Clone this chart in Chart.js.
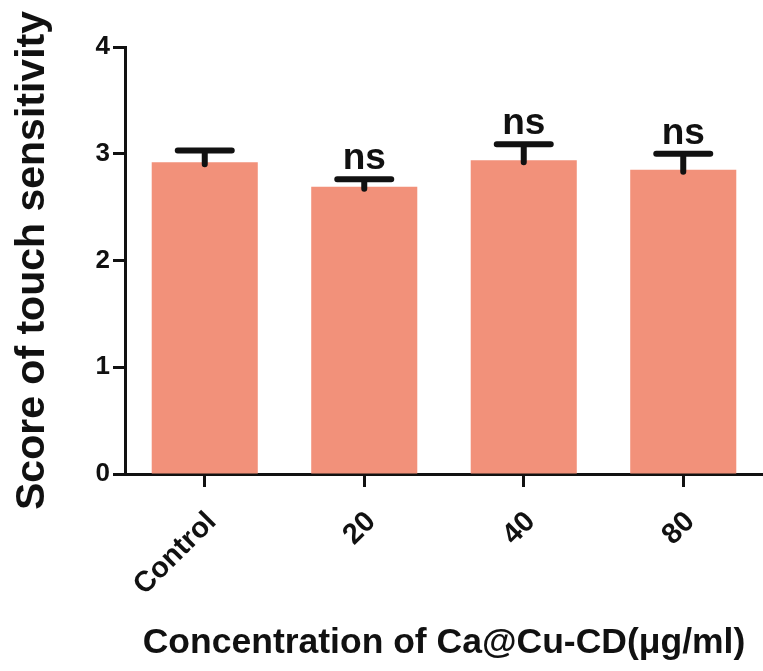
<!DOCTYPE html>
<html>
<head>
<meta charset="utf-8">
<script src="https://cdn.jsdelivr.net/npm/chart.js@4.4.1/dist/chart.umd.min.js"></script>
<style>
  html, body { margin: 0; padding: 0; background: #fff; }
  #wrap { width: 763px; height: 671px; }
</style>
</head>
<body>
<div id="wrap"><canvas id="myChart"></canvas></div>
<script>
// data
const groups = ['Control', '20', '40', '80'];
const scores = [2.92, 2.69, 2.94, 2.85];
const errors = [0.11, 0.07, 0.15, 0.15];
const marks = ['', 'ns', 'ns', 'ns'];
const yTicks = [0, 1, 2, 3, 4];

const barColor = '#F2917A';
const FONT = 'Arial, "Liberation Sans", sans-serif';

// upper error bars + "ns" labels
const errorBars = {
    id: 'errorBars',
    afterDatasetsDraw(chart) {
        const ctx = chart.ctx;
        const meta = chart.getDatasetMeta(0);
        const y = chart.scales.y;
        ctx.save();
        ctx.strokeStyle = '#111';
        ctx.lineWidth = 6;
        ctx.lineCap = 'round';
        meta.data.forEach((bar, i) => {
            const top = y.getPixelForValue(scores[i] + errors[i]);
            const base = y.getPixelForValue(scores[i]);
            ctx.beginPath();
            ctx.moveTo(bar.x, base + 2);
            ctx.lineTo(bar.x, top);
            ctx.moveTo(bar.x - 27, top);
            ctx.lineTo(bar.x + 27, top);
            ctx.stroke();
            if (marks[i]) {
                ctx.fillStyle = '#111';
                ctx.font = 'bold 37px ' + FONT;
                ctx.textAlign = 'center';
                ctx.textBaseline = 'alphabetic';
                ctx.fillText(marks[i], bar.x, top - 10);
            }
        });
        ctx.restore();
    }
};

new Chart(document.getElementById('myChart'), {
    type: 'bar',
    data: {
        labels: groups,
        datasets: [{
            data: scores,
            backgroundColor: barColor,
            borderWidth: 0,
            barPercentage: 1,
            categoryPercentage: 0.665
        }]
    },
    options: {
        animation: false,
        responsive: true,
        maintainAspectRatio: false,
        layout: { padding: { top: 47, right: 0, left: 0, bottom: 0 } },
        plugins: { legend: { display: false }, tooltip: { enabled: false } },
        scales: {
            x: {
                offset: true,
                afterFit: (s) => { s.height = 197; },
                grid: { drawOnChartArea: false, drawTicks: true, tickLength: 13, tickWidth: 3, color: '#111', offset: false },
                border: { display: true, width: 3, color: '#111' },
                ticks: { color: '#111', font: { family: FONT, size: 29, weight: 'bold' }, minRotation: 45, maxRotation: 45, padding: 18, labelOffset: 7 },
                title: {
                    display: true,
                    text: 'Concentration of Ca@Cu-CD(\u03bcg/ml)',
                    color: '#111',
                    font: { family: FONT, size: 35.5, weight: 'bold' },
                    padding: { top: 0, bottom: 6 }
                }
            },
            y: {
                min: 0,
                max: 4,
                afterFit: (s) => { s.width = 125; },
                afterBuildTicks: (s) => { s.ticks = yTicks.map(v => ({ value: v })); },
                grid: { drawOnChartArea: false, drawTicks: true, tickLength: 12, tickWidth: 3, color: '#111' },
                border: { display: true, width: 3, color: '#111' },
                ticks: { color: '#111', font: { family: FONT, size: 26, weight: 'bold' }, padding: 3 },
                title: {
                    display: true,
                    text: 'Score of touch sensitivity',
                    color: '#111',
                    font: { family: FONT, size: 41, weight: 'bold' },
                    padding: { top: 8, bottom: 0 }
                }
            }
        }
    },
    plugins: [errorBars]
});
</script>
</body>
</html>
